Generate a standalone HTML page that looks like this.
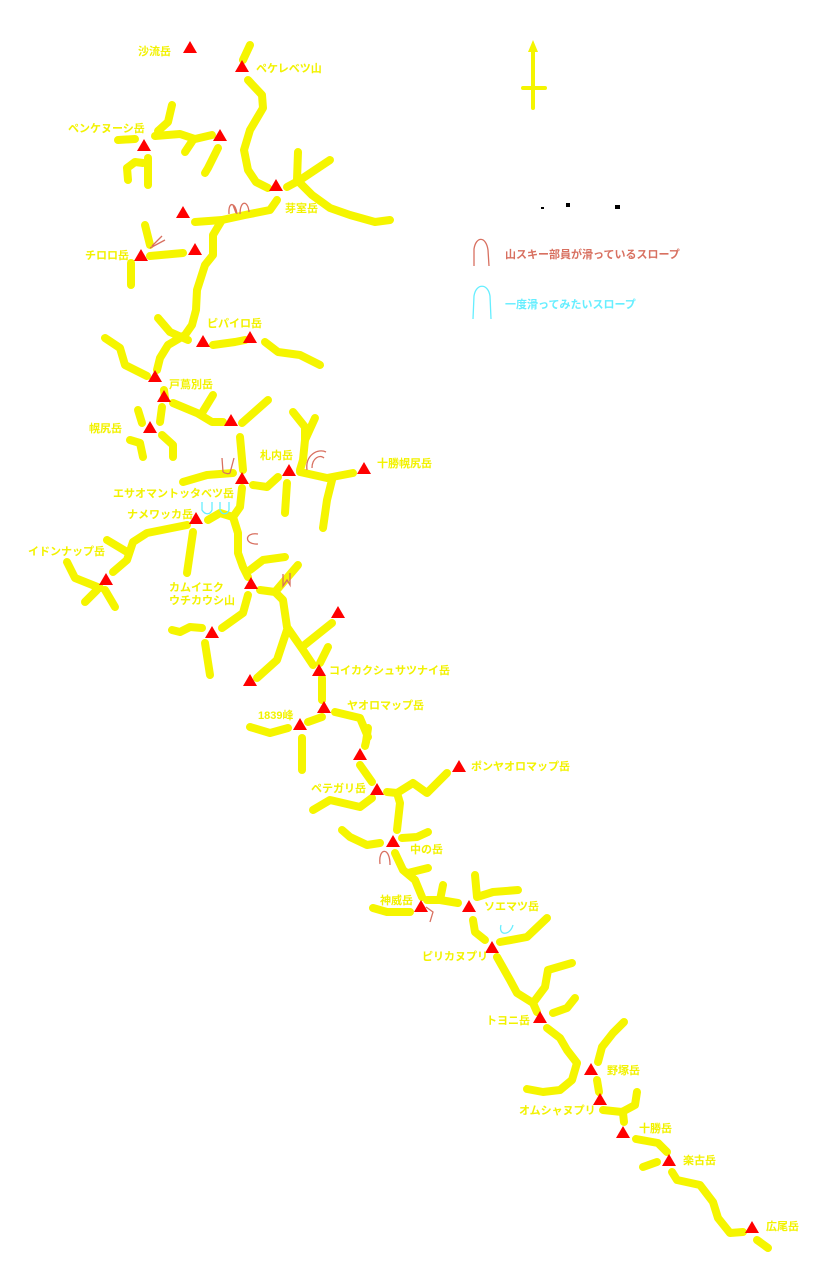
<!DOCTYPE html>
<html><head><meta charset="utf-8"><style>
html,body{margin:0;padding:0;background:#fff;}
svg{display:block}
text{font-family:"Liberation Sans","Noto Sans CJK JP",sans-serif;font-size:11px;font-weight:bold;fill:#f2f200}
</style></head><body>
<svg width="813" height="1271" viewBox="0 0 813 1271" xmlns="http://www.w3.org/2000/svg">
<g fill="none" stroke="#f5f500" stroke-width="8" stroke-linecap="round" stroke-linejoin="round">
<polyline points="250,45 243,60"/>
<polyline points="248,80 262,95 263,108 250,130 244,150 248,170 256,182 268,188"/>
<polyline points="287,187 300,180 330,160"/>
<polyline points="298,152 297,180 312,195 330,208 350,215 375,222 390,220"/>
<polyline points="118,140 135,139"/>
<polyline points="172,105 168,122 158,131"/>
<polyline points="155,136 180,134 195,139 212,135"/>
<polyline points="193,140 185,152"/>
<polyline points="218,148 208,168 205,173"/>
<polyline points="128,180 127,168 135,162 143,163"/>
<polyline points="148,158 148,185"/>
<polyline points="277,200 270,210 245,215 222,220 195,222"/>
<polyline points="222,220 213,235 213,255 205,265 197,290 196,310 192,325 185,335 168,345 160,358 157,370"/>
<polyline points="158,318 170,332 188,340"/>
<polyline points="145,225 150,245"/>
<polyline points="150,256 183,253"/>
<polyline points="131,263 131,285"/>
<polyline points="213,345 235,342 245,340"/>
<polyline points="265,342 278,352 300,355 320,365"/>
<polyline points="105,338 120,348 125,365 147,376"/>
<polyline points="164,390 165,398"/>
<polyline points="162,407 160,422"/>
<polyline points="173,403 197,413 212,422 223,422"/>
<polyline points="213,395 202,413"/>
<polyline points="242,423 268,400"/>
<polyline points="138,410 142,423"/>
<polyline points="130,440 140,443 143,457"/>
<polyline points="162,435 173,445 173,457"/>
<polyline points="240,437 243,470"/>
<polyline points="293,412 305,427 305,440 303,460 300,470"/>
<polyline points="315,418 305,440"/>
<polyline points="300,472 327,478 353,473"/>
<polyline points="332,480 327,500 323,528"/>
<polyline points="253,485 267,487 278,477"/>
<polyline points="287,483 285,513"/>
<polyline points="183,482 207,475 233,473"/>
<polyline points="242,488 240,507 233,517 220,513 208,520"/>
<polyline points="233,517 238,533 238,553 243,567 248,577"/>
<polyline points="187,525 147,533 133,542 127,560 113,572"/>
<polyline points="107,540 127,552"/>
<polyline points="67,562 75,578 100,588"/>
<polyline points="97,590 85,602"/>
<polyline points="105,590 115,607"/>
<polyline points="193,532 187,573"/>
<polyline points="250,570 263,560 285,557"/>
<polyline points="260,590 275,592 283,600 287,627 303,650 313,665"/>
<polyline points="275,592 298,565"/>
<polyline points="287,630 277,660 257,678"/>
<polyline points="302,647 332,623"/>
<polyline points="328,647 320,663"/>
<polyline points="248,595 243,613 222,628"/>
<polyline points="172,630 180,632 190,627 202,628"/>
<polyline points="205,643 210,675"/>
<polyline points="322,678 322,700"/>
<polyline points="335,712 360,718 368,737"/>
<polyline points="308,722 322,717"/>
<polyline points="250,727 270,733 288,728"/>
<polyline points="302,738 302,770"/>
<polyline points="368,728 366,742 365,746"/>
<polyline points="360,765 372,782"/>
<polyline points="387,792 397,793 400,803 397,830"/>
<polyline points="397,793 413,783 427,793 447,773"/>
<polyline points="313,810 330,800 360,807 372,798"/>
<polyline points="342,830 350,837 367,845 380,843"/>
<polyline points="402,838 417,837 428,832"/>
<polyline points="395,853 403,870 415,880 422,897"/>
<polyline points="408,873 428,868"/>
<polyline points="427,900 440,900 443,885"/>
<polyline points="440,900 458,903"/>
<polyline points="373,908 387,912 410,912"/>
<polyline points="475,875 477,897 493,892 518,890"/>
<polyline points="473,920 475,932 485,940"/>
<polyline points="500,942 527,937 547,918"/>
<polyline points="497,957 510,980 517,993 533,1003 537,1012"/>
<polyline points="533,1003 545,987 548,970 572,963"/>
<polyline points="553,1013 567,1008 575,998"/>
<polyline points="547,1028 560,1038 567,1050 577,1063"/>
<polyline points="577,1063 572,1080 560,1090 543,1092 527,1089"/>
<polyline points="598,1062 602,1047 613,1033 624,1022"/>
<polyline points="597,1080 599,1092"/>
<polyline points="603,1110 622,1112 635,1105 637,1092"/>
<polyline points="623,1113 624,1122"/>
<polyline points="636,1139 658,1143 667,1152"/>
<polyline points="643,1167 657,1162"/>
<polyline points="672,1172 677,1180 700,1185 713,1202 718,1218 730,1233 743,1232"/>
<polyline points="757,1240 768,1248"/>
<polyline points="533,48 533,108" stroke-width="4"/>
<polyline points="523,88 545,88" stroke-width="4"/>
</g>
<polygon points="533,40 528,52 538,52" fill="#f5f500"/>
<g fill="none" stroke-width="1.3">
<path d="M229,214 C228,200 236,203 237,214 M240,214 C240,200 248,200 249,212 M236,213 L233,205" stroke="#d87060"/>
<path d="M150,248 L165,240 M152,246 L162,236" stroke="#d87060"/>
<path d="M223,472 L222,458 M230,473 L234,458 M223,472 C226,474 229,474 230,473" stroke="#d87060"/>
<path d="M307,470 C305,455 318,448 326,452 M312,468 C312,458 320,454 324,458" stroke="#d87060"/>
<path d="M258,534 C244,532 244,545 258,544" stroke="#d87060"/>
<path d="M283,574 L283,586 L287,580 L290,585 L290,573" stroke="#d87060"/>
<path d="M380,864 C378,848 390,846 390,865" stroke="#d87060"/>
<path d="M426,907 L433,912 L430,922" stroke="#d87060"/>
<path d="M474,266 L474,249 C476,236 486,236 488,250 L489,266" stroke="#d87060"/>
<path d="M202,502 L202,510 C205,515 210,515 212,510 L212,502 M220,502 L220,510 C222,515 227,515 229,510 L229,502" stroke="#66eeff"/>
<path d="M501,925 C498,936 510,936 513,925" stroke="#66eeff"/>
<path d="M473,319 L474,296 C476,283 488,283 490,296 L491,319" stroke="#66eeff"/>
</g>
<g fill="#ff0000">
<path d="M190,41 l-7,12 h14z"/><path d="M242,60 l-7,12 h14z"/><path d="M220,129 l-7,12 h14z"/>
<path d="M144,139 l-7,12 h14z"/><path d="M276,179 l-7,12 h14z"/><path d="M183,206 l-7,12 h14z"/>
<path d="M195,243 l-7,12 h14z"/><path d="M141,249 l-7,12 h14z"/><path d="M203,335 l-7,12 h14z"/>
<path d="M250,331 l-7,12 h14z"/><path d="M155,370 l-7,12 h14z"/><path d="M164,390 l-7,12 h14z"/>
<path d="M150,421 l-7,12 h14z"/><path d="M231,414 l-7,12 h14z"/><path d="M289,464 l-7,12 h14z"/>
<path d="M242,472 l-7,12 h14z"/><path d="M364,462 l-7,12 h14z"/><path d="M196,512 l-7,12 h14z"/>
<path d="M106,573 l-7,12 h14z"/><path d="M251,577 l-7,12 h14z"/><path d="M338,606 l-7,12 h14z"/>
<path d="M212,626 l-7,12 h14z"/><path d="M319,664 l-7,12 h14z"/><path d="M250,674 l-7,12 h14z"/>
<path d="M324,701 l-7,12 h14z"/><path d="M300,718 l-7,12 h14z"/><path d="M360,748 l-7,12 h14z"/>
<path d="M459,760 l-7,12 h14z"/><path d="M377,783 l-7,12 h14z"/><path d="M393,835 l-7,12 h14z"/>
<path d="M421,900 l-7,12 h14z"/><path d="M469,900 l-7,12 h14z"/><path d="M492,941 l-7,12 h14z"/>
<path d="M540,1011 l-7,12 h14z"/><path d="M591,1063 l-7,12 h14z"/><path d="M600,1093 l-7,12 h14z"/>
<path d="M623,1126 l-7,12 h14z"/><path d="M669,1154 l-7,12 h14z"/><path d="M752,1221 l-7,12 h14z"/>
</g>
<g fill="#000"><rect x="541" y="207" width="3" height="2"/><rect x="566" y="203" width="4" height="4"/><rect x="615" y="205" width="5" height="4"/></g>
<text x="138" y="55">沙流岳</text>
<text x="256" y="72">ペケレベツ山</text>
<text x="68" y="132">ペンケヌーシ岳</text>
<text x="285" y="212">芽室岳</text>
<text x="85" y="259">チロロ岳</text>
<text x="207" y="327">ピパイロ岳</text>
<text x="169" y="388">戸蔦別岳</text>
<text x="89" y="432">幌尻岳</text>
<text x="260" y="459">札内岳</text>
<text x="377" y="467">十勝幌尻岳</text>
<text x="113" y="497">エサオマントッタベツ岳</text>
<text x="127" y="518">ナメワッカ岳</text>
<text x="28" y="555">イドンナップ岳</text>
<text x="169" y="591">カムイエク</text>
<text x="169" y="604">ウチカウシ山</text>
<text x="329" y="674">コイカクシュサツナイ岳</text>
<text x="258" y="719">1839峰</text>
<text x="347" y="709">ヤオロマップ岳</text>
<text x="471" y="770">ポンヤオロマップ岳</text>
<text x="311" y="792">ペテガリ岳</text>
<text x="410" y="853">中の岳</text>
<text x="380" y="904">神威岳</text>
<text x="484" y="910">ソエマツ岳</text>
<text x="422" y="960">ピリカヌプリ</text>
<text x="486" y="1024">トヨニ岳</text>
<text x="607" y="1074">野塚岳</text>
<text x="519" y="1114">オムシャヌプリ</text>
<text x="639" y="1132">十勝岳</text>
<text x="683" y="1164">楽古岳</text>
<text x="766" y="1230">広尾岳</text>
<text x="505" y="258" style="fill:#d87060">山スキー部員が滑っているスロープ</text>
<text x="505" y="308" style="fill:#66eeff">一度滑ってみたいスロープ</text>
</svg>
</body></html>
